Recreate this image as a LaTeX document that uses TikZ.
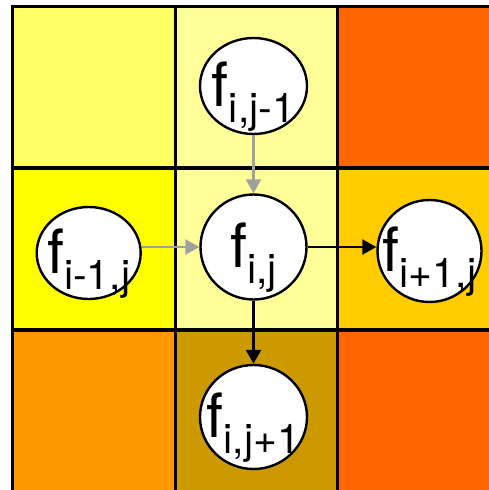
\documentclass[tikz,border=0pt]{standalone}
\usepackage{fontspec}
\setmainfont{TeX Gyre Heros}
\usetikzlibrary{shapes.geometric,arrows.meta}
\definecolor{cTL}{HTML}{FFFF66}
\definecolor{cTM}{HTML}{FFFF99}
\definecolor{cTR}{HTML}{FF6600}
\definecolor{cML}{HTML}{FFFF00}
\definecolor{cMM}{HTML}{FFFF99}
\definecolor{cMR}{HTML}{FFCC00}
\definecolor{cBL}{HTML}{FF9900}
\definecolor{cBM}{HTML}{CC9900}
\definecolor{cBR}{HTML}{FF6600}
\definecolor{arrgray}{HTML}{A0A0A0}
\newcommand{\flabel}[1]{\makebox[0pt]{\raisebox{-20pt}[0pt][0pt]{\fontsize{61}{61}\selectfont f\raisebox{-16pt}{\fontsize{41}{41}\selectfont #1}}}}
\begin{document}
\begin{tikzpicture}[x=1pt,y=-1pt,
  cell/.style={draw=black,line width=3.2pt},
  fnode/.style={ellipse,draw=black,line width=2.4pt,fill=white,inner sep=0pt},
  grayarrow/.style={draw=arrgray,line width=2.4pt,-{Triangle[length=14pt,width=15pt]}},
  blackarrow/.style={draw=black,line width=2.4pt,-{Triangle[length=14pt,width=15pt]}}]
\clip (0,0) rectangle (489,490);
\fill[white] (0,0) rectangle (489,490);
% grid cells
\filldraw[cell,fill=cTL] (12.5,6.5) rectangle (175.5,168);
\filldraw[cell,fill=cTM] (175.5,6.5) rectangle (337.5,168);
\filldraw[cell,fill=cTR] (337.5,6.5) rectangle (500,168);
\filldraw[cell,fill=cML] (12.5,168) rectangle (175.5,330);
\filldraw[cell,fill=cMM] (175.5,168) rectangle (337.5,330);
\filldraw[cell,fill=cMR] (337.5,168) rectangle (500,330);
\filldraw[cell,fill=cBL] (12.5,330) rectangle (175.5,495);
\filldraw[cell,fill=cBM] (175.5,330) rectangle (337.5,495);
\filldraw[cell,fill=cBR] (337.5,330) rectangle (500,495);
% nodes
\node[fnode,minimum width=106pt,minimum height=105pt] (c) at (253.5,247) {\flabel{i,j}};
\node[fnode,minimum width=107pt,minimum height=96pt] (t) at (253.5,86) {\flabel{i,j-1}};
\node[fnode,minimum width=104pt,minimum height=92pt] (l) at (88.7,253) {\flabel{i-1,j}};
\node[fnode,minimum width=104pt,minimum height=102pt] (r) at (429.5,251) {\flabel{i+1,j}};
\node[fnode,minimum width=107pt,minimum height=104pt] (b) at (253.5,417) {\flabel{i,j+1}};
% connectors
\draw[grayarrow] (t.south) -- (c.north);
\draw[grayarrow] (c.west -| l.east) -- (c.west);
\draw[blackarrow] (c.east) -- (c.east -| r.west);
\draw[blackarrow] (c.south) -- (b.north);
\end{tikzpicture}
\end{document}
